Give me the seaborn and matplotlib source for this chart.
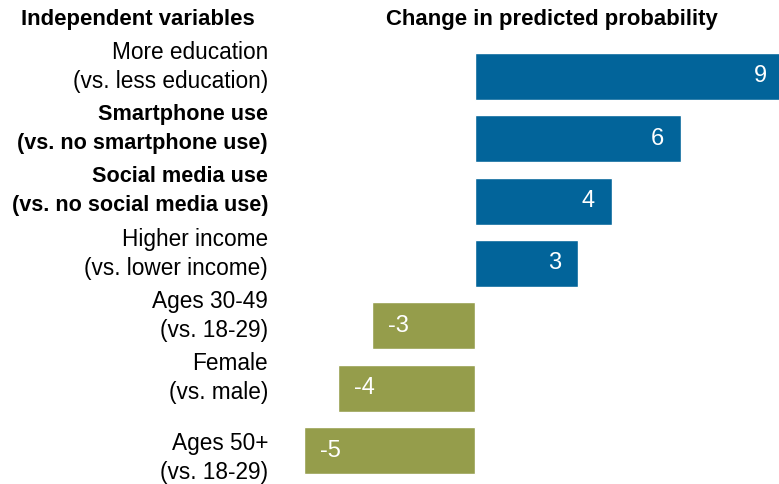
import matplotlib
matplotlib.use('Agg')
import matplotlib.pyplot as plt
import matplotlib.transforms as mtransforms
import seaborn as sns
import pandas as pd

# dados do gráfico
variaveis = [
    'More education\n(vs. less education)',
    'Smartphone use\n(vs. no smartphone use)',
    'Social media use\n(vs. no social media use)',
    'Higher income\n(vs. lower income)',
    'Ages 30-49\n(vs. 18-29)',
    'Female\n(vs. male)',
    'Ages 50+\n(vs. 18-29)',
]
mudanca = [9, 6, 4, 3, -3, -4, -5]
negrito = [False, True, True, False, False, False, False]

df = pd.DataFrame({'variavel': variaveis, 'mudanca': mudanca})
df['sinal'] = ['pos' if v > 0 else 'neg' for v in mudanca]

sns.set_style('white')
plt.rcParams['font.family'] = ['Liberation Sans', 'DejaVu Sans']
plt.rcParams['text.color'] = 'black'
plt.rcParams['ytick.color'] = 'black'

fig = plt.figure(figsize=(7.79, 4.84), dpi=100)
ax = fig.add_axes([0.3723, 0.0048, 0.6277, 0.9017])

sns.barplot(ax=ax, data=df, x='mudanca', y='variavel', hue='sinal',
            palette={'pos': '#02649a', 'neg': '#959d4b'}, width=0.755,
            dodge=False, legend=False, orient='h', saturation=1)

ax.set_xlim(-5.394, 8.863)
ax.set_ylim(6.5, -0.5)
ax.set_xlabel('')
ax.set_ylabel('')
ax.set_xticks([])
sns.despine(ax=ax, left=True, bottom=True)

# rótulos das variáveis
ax.set_yticks(range(len(variaveis)))
ax.set_yticklabels(variaveis, fontsize=16.3, linespacing=1.33, ha='right',
                   va='center', color='black')
ax.tick_params(axis='y', length=0, pad=15.8)
rotulos = ax.get_yticklabels()
for i, (lbl, b) in enumerate(zip(rotulos, negrito)):
    if b:
        lbl.set_fontweight('bold')
        lbl.set_fontsize(15.6)
        lbl.set_linespacing(1.5)
    # no original os rótulos ficam um pouco acima do centro da barra,
    # e o último um pouco abaixo
    dy = 7.0 if i < len(rotulos) - 1 else -5.5
    lbl.set_transform(lbl.get_transform() +
                      mtransforms.ScaledTranslation(0, dy / 72, fig.dpi_scale_trans))

# valores dentro das barras
for i, v in enumerate(mudanca):
    if v > 0:
        ax.text(v - 0.5, i, str(v), ha='right', va='center', color='white', fontsize=17)
    else:
        ax.text(v + 0.47, i, str(v), ha='left', va='center', color='white', fontsize=17)

fig.text(21 / 779, 1 - 25 / 484, 'Independent variables', fontsize=15.9,
         fontweight='bold', va='baseline', ha='left', color='black')
fig.text(386 / 779, 1 - 25 / 484, 'Change in predicted probability', fontsize=15.9,
         fontweight='bold', va='baseline', ha='left', color='black')

fig.savefig('out.png', dpi=100)
